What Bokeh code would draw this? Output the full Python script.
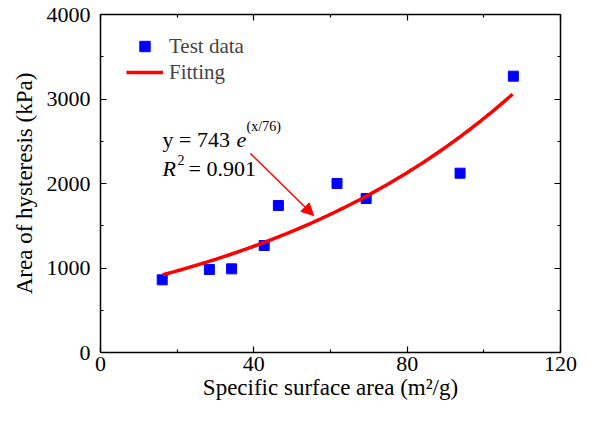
import numpy as np
from bokeh.plotting import figure
from bokeh.models import (Range1d, LinearAxis, FixedTicker, Legend, LegendItem,
                          Label, Arrow, NormalHead, ColumnDataSource)
from bokeh.embed import file_html
from bokeh.resources import INLINE

# ---- data ----
ssa = [16.1, 28.4, 34.2, 42.7, 46.4, 61.7, 69.3, 93.8, 107.7]
area = [860, 982, 990, 1266, 1740, 2000, 1822, 2122, 3270]
fit_a = 743.0
fit_b = 76.0
fit_x_min, fit_x_max = 16.2, 107.5
x_ticks = [0, 40, 80, 120]
x_minor = [20, 60, 100]
y_ticks = [0, 1000, 2000, 3000, 4000]
y_minor = [500, 1500, 2500, 3500]
eq_anchor = (16.2, 2520)
r2_anchor = (16.2, 2177)
arrow_start = (39.1, 2355)
arrow_end = (55.6, 1621)

FONT = "Liberation Serif"

fx = np.linspace(fit_x_min, fit_x_max, 120)
fy = fit_a * np.exp(fx / fit_b)

p = figure(width=590, height=421, output_backend="svg", toolbar_location=None,
           x_range=Range1d(0, 120), y_range=Range1d(0, 4000),
           x_axis_location=None, y_axis_location=None,
           min_border_left=100, min_border_right=30, min_border_top=14, min_border_bottom=69)
p.grid.visible = False
p.outline_line_color = None
p.background_fill_color = "white"
p.border_fill_color = "white"

def style(ax, labels=True):
    ax.axis_line_color = "black"
    ax.axis_line_width = 1.5
    ax.major_tick_in = 6
    ax.major_tick_out = 0
    ax.minor_tick_in = 3
    ax.minor_tick_out = 0
    ax.major_tick_line_width = 1.2
    ax.minor_tick_line_width = 1.2
    ax.major_label_text_font = FONT
    ax.major_label_text_font_size = "22px"
    ax.major_label_text_color = "black"
    ax.axis_label_text_font = FONT
    ax.axis_label_text_font_size = "23px"
    ax.axis_label_text_font_style = "normal"
    ax.axis_label_text_color = "black"
    if not labels:
        ax.major_label_text_font_size = "0px"
        ax.major_label_text_alpha = 0
        ax.major_label_standoff = 0

xb = LinearAxis(ticker=FixedTicker(ticks=x_ticks, minor_ticks=x_minor),
                axis_label="Specific surface area (m\u00b2/g)")
style(xb)
xb.major_label_standoff = 4
xb.axis_label_standoff = 1
p.add_layout(xb, "below")

yl = LinearAxis(ticker=FixedTicker(ticks=y_ticks, minor_ticks=y_minor),
                axis_label="Area of hysteresis (kPa)")
style(yl)
yl.major_label_standoff = 10
yl.axis_label_standoff = 7
p.add_layout(yl, "left")

xt = LinearAxis(ticker=FixedTicker(ticks=x_ticks, minor_ticks=x_minor))
style(xt, labels=False)
p.add_layout(xt, "above")
yr = LinearAxis(ticker=FixedTicker(ticks=y_ticks, minor_ticks=y_minor))
style(yr, labels=False)
p.add_layout(yr, "right")

src = ColumnDataSource(dict(x=ssa, y=area))
pts = p.scatter("x", "y", source=src, marker="square", size=10,
                fill_color="#0000ff", line_color="#0000ff")
fline = p.line(fx, fy, line_color="#ff0000", line_width=3.5)

legend = Legend(items=[LegendItem(label="Test data", renderers=[pts]),
                       LegendItem(label="Fitting", renderers=[fline])],
                location=(26, 267), glyph_width=37, glyph_height=26,
                label_height=26, label_standoff=6, spacing=0, padding=0, margin=0,
                border_line_color=None, background_fill_alpha=0,
                label_text_font=FONT, label_text_font_size="21px")
p.add_layout(legend, "center")

def lab(pos, text, dx=0, dy=0, size="22px", style_="normal"):
    p.add_layout(Label(x=pos[0], y=pos[1], x_offset=dx, y_offset=dy, text=text,
                       text_font=FONT, text_font_size=size, text_font_style=style_,
                       text_baseline="alphabetic", text_align="left", text_color="black"))

lab(eq_anchor, "y = 743")
lab(eq_anchor, "e", dx=74, style_="italic")
lab(eq_anchor, "(x/76)", dx=84, dy=13, size="14px")
lab(r2_anchor, "R", style_="italic")
lab(r2_anchor, "2", dx=15, dy=9, size="14px")
lab(r2_anchor, "= 0.901", dx=26)

p.add_layout(Arrow(x_start=arrow_start[0], y_start=arrow_start[1],
                   x_end=arrow_end[0], y_end=arrow_end[1],
                   line_color="#ff0000", line_width=1.5,
                   end=NormalHead(size=12, fill_color="#ff0000", line_color="#ff0000")))

open("out.html", "w").write(file_html(p, INLINE))
